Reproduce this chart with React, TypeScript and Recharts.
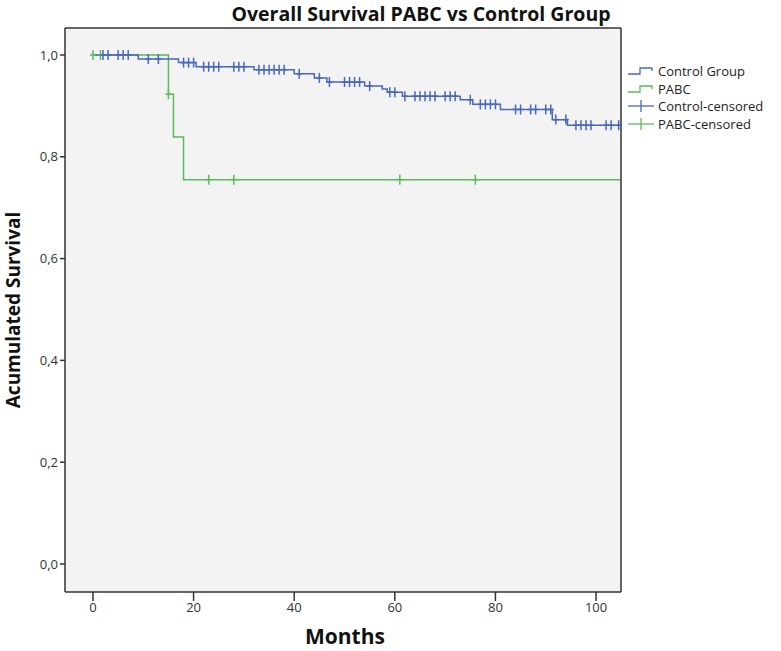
import React from "react";
import { ComposedChart, Line, Scatter, XAxis, YAxis, CartesianGrid } from "recharts";

// Kaplan-Meier steps
const controlTimes = [0, 9, 17, 20.5, 32, 40, 44, 46.5, 54, 57.5, 58.5, 61.5, 73, 75.5, 81, 91.3, 94.3, 104.96];
const controlSurv = [1.0, 0.992, 0.985, 0.977, 0.971, 0.963, 0.955, 0.947, 0.939, 0.933, 0.927, 0.919, 0.912, 0.903, 0.893, 0.873, 0.862, 0.862];
const controlCensored = [
  2, 3, 5, 6, 7, 11, 13, 18, 19, 20, 22, 23, 24, 25, 28, 29, 30, 33, 34, 35, 36, 37, 38, 41, 45, 47, 50, 51, 52,
  53, 55, 59, 60, 62, 64, 65, 66, 67, 68, 70, 71, 72, 75, 77, 78, 79, 80, 84, 85, 87, 88, 90, 91, 92, 94, 96, 97,
  98, 99, 102, 103, 104.5,
];

const pabcTimes = [0, 15, 16, 18, 104.96];
const pabcSurv = [1.0, 0.923, 0.839, 0.755, 0.755];
const pabcCensored = [0, 1.5, 15, 23, 28, 61, 76];

const xTicks = [0, 20, 40, 60, 80, 100];
const yTicks = [0, 0.2, 0.4, 0.6, 0.8, 1.0];

const BLUE = "#4a67c0";
const GREEN = "#5bbb5b";
const FONT = "'Open Sans', 'DejaVu Sans', sans-serif";

const survivalAt = (times: number[], surv: number[], t: number) => {
  let v = surv[0];
  times.forEach((tt, i) => {
    if (t >= tt) v = surv[i];
  });
  return v;
};

const controlLine = controlTimes.map((t, i) => ({ x: t, y: controlSurv[i] }));
const pabcLine = pabcTimes.map((t, i) => ({ x: t, y: pabcSurv[i] }));
const controlMarks = controlCensored.map((t) => ({ x: t, y: survivalAt(controlTimes, controlSurv, t) }));
const pabcMarks = pabcCensored.map((t) => ({ x: t, y: survivalAt(pabcTimes, pabcSurv, t) }));

const censorShape = (color: string) => (props: any) => {
  const { cx, cy } = props;
  return (
    <g>
      <line x1={cx} y1={cy - 5} x2={cx} y2={cy + 5} stroke={color} strokeWidth={1.5} />
      <line x1={cx - 3} y1={cy} x2={cx + 3} y2={cy} stroke={color} strokeWidth={1.5} />
    </g>
  );
};

const legendItems = [
  { label: "Control Group", color: BLUE, kind: "step" },
  { label: "PABC", color: GREEN, kind: "step" },
  { label: "Control-censored", color: BLUE, kind: "mark" },
  { label: "PABC-censored", color: GREEN, kind: "mark" },
];

const LegendBox = () => (
  <div style={{ position: "absolute", left: 626, top: 62, fontFamily: FONT, fontSize: 13, color: "#222" }}>
    {legendItems.map((it) => (
      <div key={it.label} style={{ display: "flex", alignItems: "center", height: 17.7 }}>
        <svg width={30} height={14} style={{ marginRight: 2 }}>
          {it.kind === "step" ? (
            <polyline points="2,10 14,10 14,4 26,4 26,7" fill="none" stroke={it.color} strokeWidth={1.3} />
          ) : (
            <g>
              <line x1={2} y1={7} x2={28} y2={7} stroke={it.color} strokeWidth={1.3} />
              <line x1={15} y1={1} x2={15} y2={13} stroke={it.color} strokeWidth={1.3} />
            </g>
          )}
        </svg>
        <span>{it.label}</span>
      </div>
    ))}
  </div>
);

export default function App() {
  return (
    <div style={{ position: "absolute", left: 0, top: 0, width: 781, height: 651, background: "#fff" }}>
      <ComposedChart width={781} height={651} margin={{ top: 27, right: 159, bottom: 0, left: 0 }}>
        <CartesianGrid horizontal={false} vertical={false} fill="#f3f3f3" />
        <XAxis
          dataKey="x"
          type="number"
          domain={[-5.56, 104.96]}
          ticks={xTicks}
          allowDataOverflow
          height={59}
          tickSize={9}
          axisLine={{ stroke: "#333", strokeWidth: 1.5 }}
          tickLine={{ stroke: "#333", strokeWidth: 1.5 }}
          tick={{ fill: "#333", fontSize: 13, fontFamily: FONT }}
        />
        <XAxis
          xAxisId="top"
          orientation="top"
          dataKey="x"
          type="number"
          domain={[-5.56, 104.96]}
          height={1}
          tick={false}
          tickLine={false}
          axisLine={{ stroke: "#333", strokeWidth: 1.5 }}
        />
        <YAxis
          type="number"
          domain={[-0.055, 1.053]}
          ticks={yTicks}
          allowDataOverflow
          width={65}
          tickSize={5}
          tickFormatter={(v: number) => v.toFixed(1).replace(".", ",")}
          axisLine={{ stroke: "#333", strokeWidth: 1.5 }}
          tickLine={{ stroke: "#333", strokeWidth: 1.5 }}
          tick={{ fill: "#333", fontSize: 13, fontFamily: FONT }}
        />
        <YAxis
          yAxisId="right"
          orientation="right"
          type="number"
          domain={[-0.055, 1.053]}
          width={1}
          tick={false}
          tickLine={false}
          axisLine={{ stroke: "#333", strokeWidth: 1.5 }}
        />
        <Line data={pabcLine} dataKey="y" type="stepAfter" stroke={GREEN} strokeWidth={1.5} dot={false} isAnimationActive={false} />
        <Line data={controlLine} dataKey="y" type="stepAfter" stroke={BLUE} strokeWidth={1.5} dot={false} isAnimationActive={false} />
        <Scatter data={pabcMarks} dataKey="y" shape={censorShape(GREEN)} isAnimationActive={false} />
        <Scatter data={controlMarks} dataKey="y" shape={censorShape(BLUE)} isAnimationActive={false} />
      </ComposedChart>
      <LegendBox />
      <svg width={781} height={651} style={{ position: "absolute", left: 0, top: 0, pointerEvents: "none" }}>
        <text x={421} y={21} textAnchor="middle" fontFamily={FONT} fontWeight={700} fontSize={19.5} fill="#111">
          Overall Survival PABC vs Control Group
        </text>
        <text x={345} y={644} textAnchor="middle" fontFamily={FONT} fontWeight={700} fontSize={21} fill="#111">
          Months
        </text>
        <text
          transform="translate(20,310) rotate(-90)"
          textAnchor="middle"
          fontFamily={FONT}
          fontWeight={700}
          fontSize={19}
          fill="#111"
        >
          Acumulated Survival
        </text>
      </svg>
    </div>
  );
}
